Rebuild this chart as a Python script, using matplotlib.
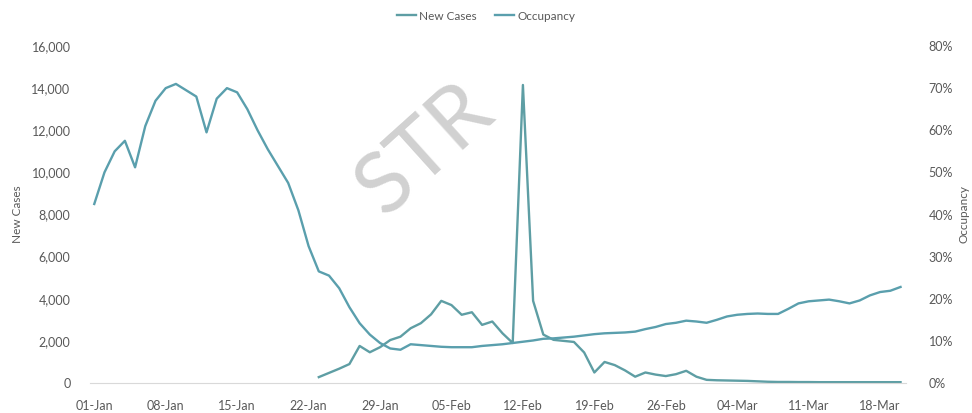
import numpy as np
import pandas as pd
import matplotlib
matplotlib.use('Agg')
import matplotlib.pyplot as plt
import matplotlib.dates as mdates
from matplotlib.ticker import FuncFormatter

plt.rcParams['font.family'] = ['Lato', 'DejaVu Sans']

# hotel occupancy (%), daily from 01-Jan to 20-Mar
occupancy = [42.5, 50.0, 55.0, 57.5, 51.2, 61.0, 67.0, 70.0, 71.0, 69.5,
             68.0, 59.5, 67.5, 70.0, 69.0, 65.0, 60.0, 55.5, 51.5, 47.5,
             41.0, 32.5, 26.5, 25.5, 22.5, 18.0, 14.2, 11.5, 9.5, 8.2,
             7.9, 9.2, 9.0, 8.8, 8.6, 8.5, 8.5, 8.5, 8.8, 9.0,
             9.2, 9.5, 9.8, 10.1, 10.5, 10.6, 10.8, 11.0, 11.3, 11.6,
             11.8, 11.9, 12.0, 12.2, 12.8, 13.3, 14.0, 14.3, 14.8, 14.6,
             14.3, 15.0, 15.8, 16.2, 16.4, 16.5, 16.4, 16.4, 17.6, 18.9,
             19.4, 19.6, 19.8, 19.4, 18.9, 19.6, 20.8, 21.6, 21.9, 22.8]
occ_start = '2020-01-01'

# daily new cases, reported from 23-Jan
new_cases = [280, 480, 680, 900, 1760, 1460, 1700, 2040, 2200, 2600,
             2840, 3260, 3900, 3700, 3240, 3360, 2760, 2920, 2360, 1900,
             14150, 3900, 2300, 2050, 2000, 1950, 1450, 500, 1000, 850,
             600, 300, 500, 400, 330, 420, 580, 300, 150, 130,
             120, 110, 100, 80, 60, 50, 50, 45, 45, 40,
             40, 40, 40, 40, 40, 40, 40, 40]
cases_start = '2020-01-23'

occ_dates = pd.date_range(occ_start, periods=len(occupancy), freq='D')
case_dates = pd.date_range(cases_start, periods=len(new_cases), freq='D')

grey = '#595959'
c_cases = '#5e9ea4'
c_occ = '#5a9fad'

fig = plt.figure(figsize=(9.72, 4.13), dpi=100)
ax = fig.add_axes([0.0926, 0.0726, 0.840, 0.816])
ax2 = ax.twinx()

l1, = ax.plot(case_dates, new_cases, color=c_cases, lw=1.7, label='New Cases')
l2, = ax2.plot(occ_dates, np.array(occupancy) / 100, color=c_occ, lw=1.7, label='Occupancy')

ax.set_ylim(0, 16000)
ax.set_yticks(np.arange(0, 16001, 2000))
ax.yaxis.set_major_formatter(FuncFormatter(lambda v, p: f'{int(v):,}'))
ax2.set_ylim(0, 0.8)
ax2.set_yticks(np.arange(0, 0.81, 0.1))
ax2.yaxis.set_major_formatter(FuncFormatter(lambda v, p: f'{v*100:.0f}%'))

ax.set_xlim(occ_dates[0] - pd.Timedelta(hours=10), occ_dates[-1] + pd.Timedelta(hours=14))
ticks = pd.date_range(occ_start, occ_dates[-1], freq='7D')
ax.set_xticks(ticks)
ax.xaxis.set_major_formatter(mdates.DateFormatter('%d-%b'))

for a in (ax, ax2):
    for s in a.spines.values():
        s.set_visible(False)
    a.tick_params(length=0, labelsize=9, colors=grey)
ax.spines['bottom'].set_visible(True)
ax.spines['bottom'].set_color('#d9d9d9')
ax.tick_params(axis='x', pad=12)
ax.tick_params(axis='y', pad=14)
ax2.tick_params(axis='y', pad=16)

ax.set_ylabel('New Cases', fontsize=8.5, color=grey, labelpad=6)
ax2.set_ylabel('Occupancy', fontsize=8.5, color=grey, labelpad=4)

fig.legend(handles=[l1, l2], loc='upper center', bbox_to_anchor=(0.5, 1.0), ncol=2,
           frameon=False, fontsize=8.5, handlelength=1.6, handletextpad=0.3,
           columnspacing=1.5, labelcolor=grey)

# watermark
ax.text(0.41, 0.69, 'STR', transform=ax.transAxes, fontsize=62, color='#bdbdbd',
        alpha=0.7, rotation=42, ha='center', va='center', zorder=0)

fig.savefig('out.png', dpi=100)
